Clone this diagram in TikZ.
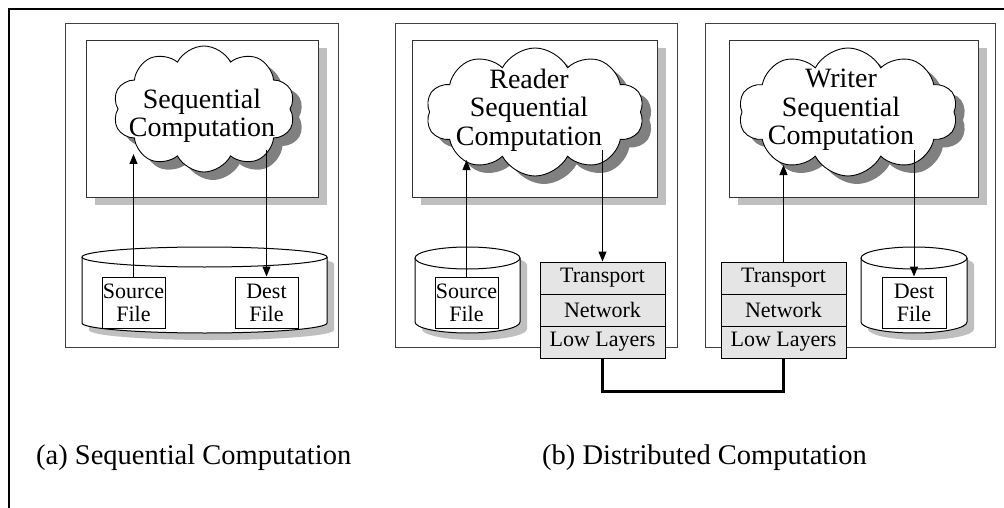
\documentclass[tikz,border=0pt]{standalone}
\usepackage{fontspec}
\setmainfont{Liberation Serif}
\usetikzlibrary{shapes.symbols,arrows.meta,calc}

% cylinder (disk) with a flat grey shadow: x-left, x-right, top centre y, bottom centre y, y radius
\newcommand{\drumshape}[5]{%
  \pgfmathsetmacro{\drumrx}{(#2-#1)/2}%
  \begin{scope}[shift={(7,7)}]
    \fill[black!25] (#1,#3) -- (#1,#4) arc[start angle=180,end angle=360,x radius=\drumrx pt,y radius=#5pt]
      -- (#2,#3) arc[start angle=0,end angle=180,x radius=\drumrx pt,y radius=#5pt] -- cycle;
  \end{scope}
  \filldraw[fill=white,draw=black,line width=1pt] (#1,#3) -- (#1,#4)
      arc[start angle=180,end angle=360,x radius=\drumrx pt,y radius=#5pt] -- (#2,#3);
  \filldraw[fill=white,draw=black,line width=1pt] ({(#1+#2)/2},#3) ellipse[x radius=\drumrx pt,y radius=#5pt];
}

\begin{document}
\begin{tikzpicture}[x=1pt,y=-1pt,
  panel/.style={rectangle, draw=black!75, line width=1pt, fill=white, inner sep=0, anchor=north west},
  compbox/.style={rectangle, draw=black!80, line width=1pt, fill=white, inner sep=0, anchor=north west},
  boxshadow/.style={rectangle, fill=black!25, draw=none, inner sep=0, anchor=north west},
  puff/.style={cloud, cloud puffs=10, cloud puff arc=125, draw=black, line width=0.9pt, fill=white, inner sep=0},
  puffshadow/.style={cloud, cloud puffs=10, cloud puff arc=125, fill=black!50, draw=none, inner sep=0},
  cloudtext/.style={align=center, font=\fontsize{28}{28.5}\selectfont, inner sep=0},
  filebox/.style={rectangle, draw=black, fill=white, line width=1pt, minimum width=63pt, minimum height=51pt,
    inner sep=0, align=center, font=\fontsize{22}{23}\selectfont},
  layer/.style={rectangle, draw=black, fill=black!10, line width=1pt, minimum width=125pt, minimum height=32pt,
    inner sep=0, font=\fontsize{22}{23}\selectfont},
  flow/.style={-{Triangle[length=10pt,width=8pt]}, line width=1pt},
  link/.style={line width=3.6pt, line join=miter},
  caption/.style={anchor=west, inner sep=0, font=\fontsize{28.5}{30}\selectfont}]

\useasboundingbox (0,0) rectangle (1004,508);

% outer frame
\draw[line width=2.2pt] (9,508) -- (9,9) -- (1004,9);

% ---------- (a) sequential ----------
\node[panel, minimum width=273pt, minimum height=324pt] (pa) at (65,23) {};
\node[boxshadow, minimum width=232pt, minimum height=157pt] (sha) at (95,48) {};
\node[compbox, minimum width=232pt, minimum height=157pt] (ba) at (86,40) {};
\node[puffshadow, minimum width=182pt, minimum height=126pt] (csa) at (213,117) {};
\node[puff, minimum width=182pt, minimum height=126pt] (ca) at (204,109) {};
\node[cloudtext] (ta) at (202,116) {Sequential\\Computation};

\drumshape{82}{327}{257}{323}{10}
\node[filebox] (srca) at (133.5,302.5) {Source\\File};
\node[filebox] (dsta) at (266.5,302.5) {Dest\\File};

\coordinate (ina) at (133.5,154);
\coordinate (outa) at (266.5,150);
\draw[flow] (srca.north) -- (ina);
\draw[flow] (outa) -- (dsta.north);

% ---------- (b) reader ----------
\node[panel, minimum width=282pt, minimum height=324pt] (pr) at (395,23) {};
\node[boxshadow, minimum width=245pt, minimum height=157pt] (shr) at (421,48) {};
\node[compbox, minimum width=245pt, minimum height=157pt] (br) at (412,40) {};
\node[puffshadow, minimum width=218pt, minimum height=128pt] (csr) at (544,120) {};
\node[puff, minimum width=218pt, minimum height=128pt] (cr) at (535,112) {};
\node[cloudtext] (tr) at (529,110) {Reader\\Sequential\\Computation};

\drumshape{415}{520}{258}{322}{11}
\node[filebox] (srcr) at (466.5,302.5) {Source\\File};

% ---------- (b) writer ----------
\node[panel, minimum width=290pt, minimum height=324pt] (pw) at (705,23) {};
\node[boxshadow, minimum width=249pt, minimum height=157pt] (shw) at (738,48) {};
\node[compbox, minimum width=249pt, minimum height=157pt] (bw) at (729,40) {};
\node[puffshadow, minimum width=219pt, minimum height=128pt] (csw) at (857,120) {};
\node[puff, minimum width=219pt, minimum height=128pt] (cw) at (848,112) {};
\node[cloudtext] (tw) at (841,110) {Writer\\Sequential\\Computation};

\drumshape{861}{967}{258}{322}{11}
\node[filebox, minimum width=64pt] (dstw) at (914,302.5) {Dest\\File};

% protocol stacks
\node[layer] (rtr) at (602.5,278) {Transport};
\node[layer] (rnet) at (602.5,310) {Network};
\node[layer] (rlow) at (602.5,342) {Low Layers};
\node[layer] (wtr) at (783.5,278) {Transport};
\node[layer] (wnet) at (783.5,310) {Network};
\node[layer] (wlow) at (783.5,342) {Low Layers};

% data flow
\coordinate (inr) at (466.5,160);
\coordinate (outr) at (602.5,150);
\coordinate (inw) at (783.5,165);
\coordinate (outw) at (914,150);
\draw[flow] (srcr.north) -- (inr);
\draw[flow] (outr) -- (rtr.north);
\draw[flow] (wtr.north) -- (inw);
\draw[flow] (outw) -- (dstw.north);

% physical link
\draw[link] (rlow.south) -- ++(0,33) -| (wlow.south);

% captions
\node[caption] (capa) at (36,458) {(a) Sequential Computation};
\node[caption] (capb) at (542,458) {(b) Distributed Computation};
\end{tikzpicture}
\end{document}
